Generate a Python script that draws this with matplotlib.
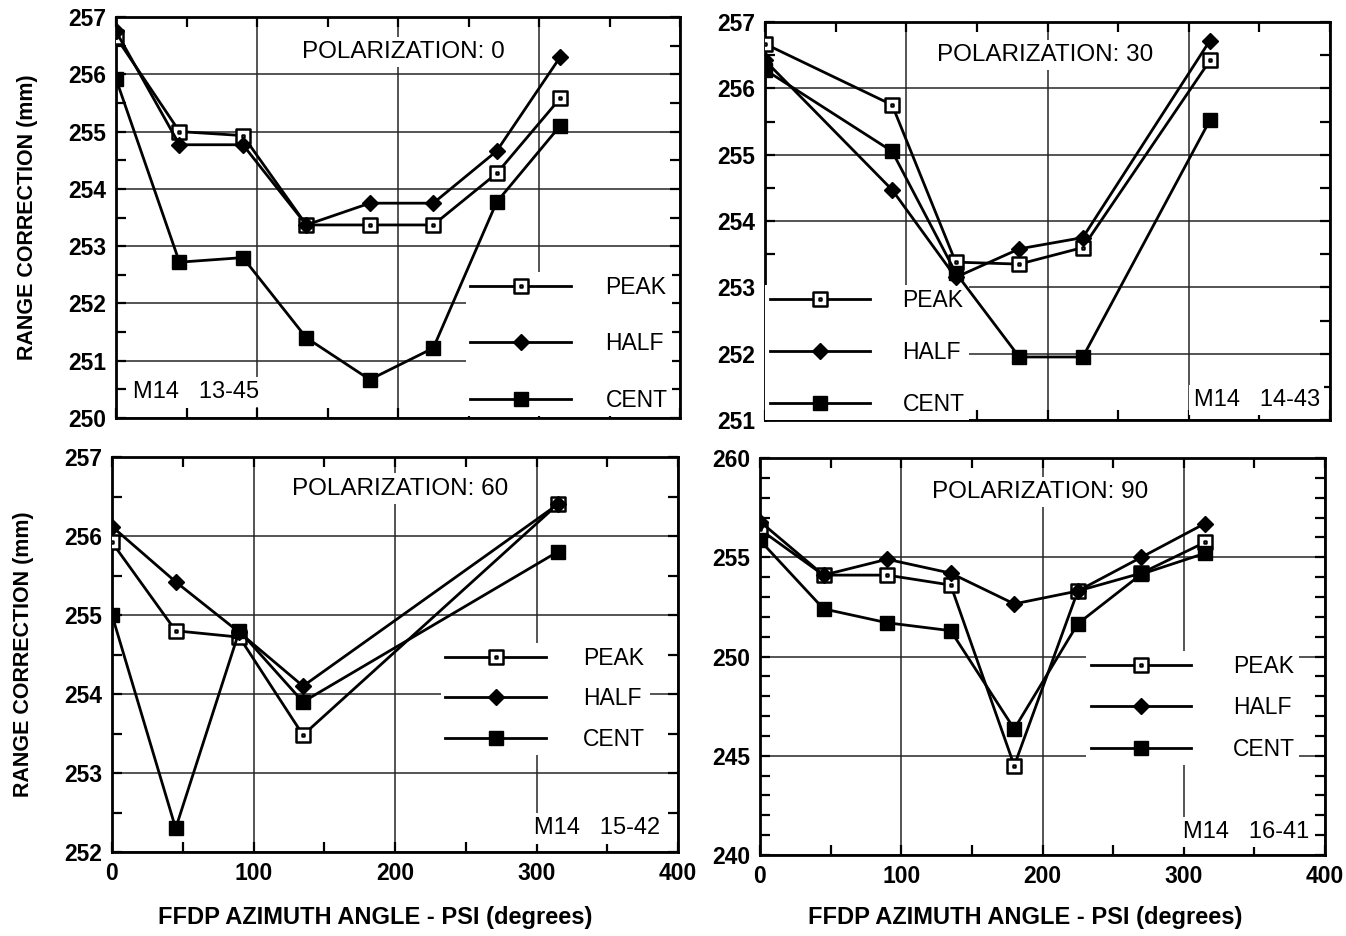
import matplotlib
matplotlib.use("Agg")
import matplotlib.pyplot as plt
from matplotlib.path import Path
from matplotlib.ticker import MultipleLocator

plt.rcParams['font.family'] = ['Liberation Sans', 'DejaVu Sans']

# psi angles (degrees)
psi_8 = [0, 45, 90, 135, 180, 225, 270, 315]
psi_6 = [0, 90, 135, 180, 225, 315]
psi_5 = [0, 45, 90, 135, 315]

# polarization 0  (M14 13-45)
p0_peak = [256.65, 255.0, 254.93, 253.37, 253.37, 253.37, 254.27, 255.58]
p0_half = [256.75, 254.77, 254.77, 253.37, 253.75, 253.75, 254.66, 256.3]
p0_cent = [255.92, 252.72, 252.8, 251.4, 250.67, 251.22, 253.77, 255.1]

# polarization 30  (M14 14-43)
p30_peak = [256.67, 255.75, 253.38, 253.35, 253.6, 256.42]
p30_half = [256.42, 254.47, 253.15, 253.58, 253.75, 256.72]
p30_cent = [256.28, 255.05, 253.22, 251.95, 251.95, 255.52]

# polarization 60  (M14 15-42)
p60_peak = [255.92, 254.8, 254.72, 253.48, 256.4]
p60_half = [256.12, 255.42, 254.78, 254.1, 256.4]
p60_cent = [255.0, 252.3, 254.8, 253.9, 255.8]

# polarization 90  (M14 16-41)
p90_peak = [256.4, 254.1, 254.1, 253.6, 244.5, 253.3, 254.2, 255.75]
p90_half = [256.8, 254.1, 254.9, 254.2, 252.65, 253.3, 255.0, 256.7]
p90_cent = [255.85, 252.4, 251.7, 251.3, 246.35, 251.65, 254.15, 255.2]

series_labels = ['PEAK', 'HALF', 'CENT']

# open square with a dot in the centre
sq = [(-1, -1), (1, -1), (1, 1), (-1, 1), (-1, -1),
      (-0.13, -0.13), (0.13, -0.13), (0.13, 0.13), (-0.13, 0.13), (-0.13, -0.13)]
cd = [Path.MOVETO, Path.LINETO, Path.LINETO, Path.LINETO, Path.CLOSEPOLY] * 2
dot_square = Path(sq, cd)

W, H = 1346, 936
fig = plt.figure(figsize=(W / 100, H / 100), dpi=100)


def px_axes(l, r, t, b):
    return fig.add_axes([l / W, 1 - b / H, (r - l) / W, (b - t) / H])


panels = [
    dict(box=(116, 680, 17, 418), x=(psi_8, psi_8, psi_8), data=(p0_peak, p0_half, p0_cent),
         ylim=(250, 257), ymaj=1, ymin=0.5, title='POLARIZATION: 0', tpos=(0.509, 0.913),
         tag='M14   13-45', tagpos=(0.03, 0.065), tagha='left',
         leg=(0.62, 0.365), lsp=1.45, htp=1.5, bottom=False, ylabel=True, xlc=(0.465, -0.137)),
    dict(box=(765, 1330, 22, 420), x=(psi_6, psi_6, psi_6), data=(p30_peak, p30_half, p30_cent),
         ylim=(251, 257), ymaj=1, ymin=0.5, title='POLARIZATION: 30', tpos=(0.496, 0.917),
         tag='M14   14-43', tagpos=(0.982, 0.05), tagha='right',
         leg=(0.0, 0.34), lsp=1.25, htp=1.4, bottom=False, ylabel=False, xlc=(0.469, -0.128)),
    dict(box=(112, 678, 457, 852), x=(psi_5, psi_5, psi_5), data=(p60_peak, p60_half, p60_cent),
         ylim=(252, 257), ymaj=1, ymin=0.5, title='POLARIZATION: 60', tpos=(0.509, 0.92),
         tag='M14   15-42', tagpos=(0.968, 0.06), tagha='right',
         leg=(0.581, 0.53), lsp=0.75, htp=1.6, bottom=True, ylabel=True, xlc=(0.465, -0.137)),
    dict(box=(760, 1325, 458, 855), x=(psi_8, psi_8, psi_8), data=(p90_peak, p90_half, p90_cent),
         ylim=(240, 260), ymaj=5, ymin=1, title='POLARIZATION: 90', tpos=(0.496, 0.914),
         tag='M14   16-41', tagpos=(0.973, 0.058), tagha='right',
         leg=(0.577, 0.515), lsp=0.8, htp=1.8, bottom=True, ylabel=False, xlc=(0.469, -0.128)),
]

for p in panels:
    ax = px_axes(*p['box'])
    xs = p['x']
    peak, half, cent = p['data']
    l1, = ax.plot(xs[0], peak, color='black', lw=2, marker=dot_square, ms=10,
                  mfc='white', mec='black', mew=1.8, label='PEAK', zorder=4)
    l2, = ax.plot(xs[1], half, color='black', lw=2, marker='D', ms=8,
                  mfc='black', mec='black', label='HALF', zorder=4)
    l3, = ax.plot(xs[2], cent, color='black', lw=2, marker='s', ms=10,
                  mfc='black', mec='black', label='CENT', zorder=4)

    ax.set_xlim(0, 400)
    ax.set_ylim(*p['ylim'])
    ax.xaxis.set_major_locator(MultipleLocator(100))
    ax.xaxis.set_minor_locator(MultipleLocator(50))
    ax.yaxis.set_major_locator(MultipleLocator(p['ymaj']))
    ax.yaxis.set_minor_locator(MultipleLocator(p['ymin']))
    ax.grid(True, which='major', color='0.15', lw=1.1, zorder=1)
    ax.tick_params(which='both', direction='in', top=True, right=True,
                   width=1.6, labelsize=16.5, pad=7)
    ax.tick_params(which='major', length=7)
    ax.tick_params(which='minor', length=7)
    ax.tick_params(axis='x', labelbottom=p['bottom'])
    for lab in ax.get_xticklabels() + ax.get_yticklabels():
        lab.set_fontweight('bold')
    for s in ax.spines.values():
        s.set_linewidth(2)

    ax.text(*p['tpos'], p['title'], transform=ax.transAxes, ha='center', va='center',
            fontsize=17.5, zorder=5,
            bbox=dict(facecolor='white', edgecolor='none', pad=3))
    ax.text(*p['tagpos'], p['tag'], transform=ax.transAxes, ha=p['tagha'], va='center',
            fontsize=17, zorder=5,
            bbox=dict(facecolor='white', edgecolor='none', pad=3))

    leg = ax.legend([l1, l2, l3], series_labels, loc='upper left',
                    bbox_to_anchor=p['leg'], borderaxespad=0, borderpad=0.2,
                    frameon=True, fancybox=False, framealpha=1, edgecolor='none',
                    fontsize=16.5, handlelength=4.4, handletextpad=p['htp'],
                    labelspacing=p['lsp'])
    leg.set_zorder(3)

    if p['ylabel']:
        ax.set_ylabel('RANGE CORRECTION (mm)', fontsize=15.5, fontweight='bold', labelpad=22)
    if p['bottom']:
        ax.set_xlabel('FFDP AZIMUTH ANGLE - PSI (degrees)', fontsize=17,
                      fontweight='bold')
        ax.xaxis.set_label_coords(*p['xlc'])

fig.savefig('out.png', dpi=100)
